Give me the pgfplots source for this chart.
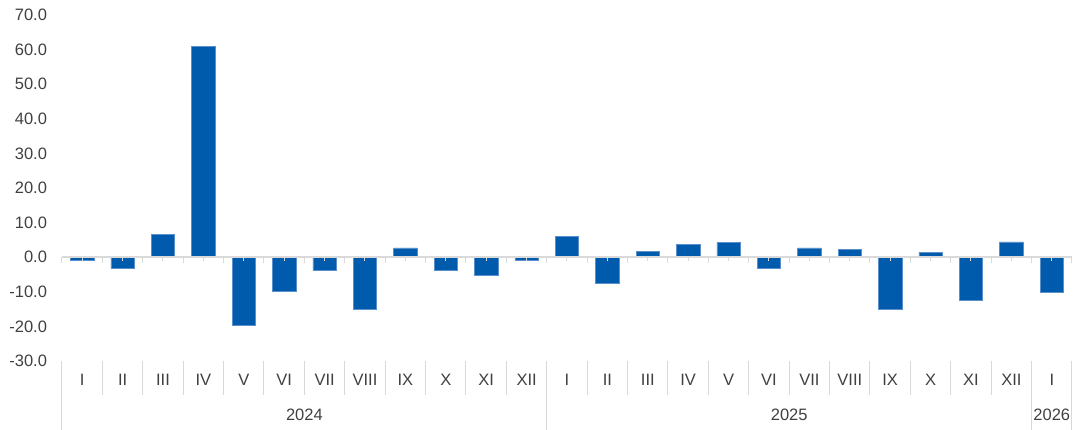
\documentclass[border=0pt]{standalone}
\usepackage{fontspec}
\setmainfont{Liberation Sans}
\usepackage{pgfplots}
\pgfplotsset{compat=1.18}
\definecolor{barblue}{HTML}{005BAC}
\definecolor{baredge}{HTML}{5A8FCB}
\definecolor{gridgray}{HTML}{D9D9D9}
\definecolor{txt}{HTML}{404040}
\newcommand{\lblfont}{\fontsize{16.5}{19.8}\selectfont}
\begin{document}
\begin{tikzpicture}[x=1pt,y=1pt]
\path[use as bounding box] (0,0) rectangle (1081,430);
\begin{axis}[
  at={(62pt,69pt)}, anchor=south west, scale only axis,
  width=1010pt, height=346pt,
  xmin=-0.5, xmax=24.5, ymin=-30, ymax=70,
  ytick={-30,-20,...,70},
  xtick={0,...,24},
  xticklabels={I,II,III,IV,V,VI,VII,VIII,IX,X,XI,XII,I,II,III,IV,V,VI,VII,VIII,IX,X,XI,XII,I},
  axis line style={draw=none},
  major tick length=0pt,
  tick style={draw=none},
  ybar, bar width=23.5pt,
  clip=false,
  font=\lblfont,
  every tick label/.append style={font=\lblfont, text=txt},
  /pgf/number format/assume math mode=true,
  yticklabel style={/pgf/number format/fixed, /pgf/number format/fixed zerofill, /pgf/number format/precision=1, xshift=-11.5pt},
  xticklabel style={anchor=center, yshift=-19pt},
]
\addplot[fill=barblue, draw=baredge, line width=0.5pt] coordinates {
 (0,-0.9) (1,-3.2) (2,6.6) (3,60.9) (4,-19.7) (5,-9.7) (6,-3.8) (7,-14.9)
 (8,2.7) (9,-3.8) (10,-5.2) (11,-0.8)
 (12,6.0) (13,-7.4) (14,1.7) (15,3.7) (16,4.2) (17,-3.3) (18,2.7) (19,2.2)
 (20,-15.0) (21,1.5) (22,-12.4) (23,4.4)
 (24,-10.1)
};
% zero line with ticks
\draw[gridgray, line width=1.4pt] (axis cs:-0.5,0) -- (axis cs:24.5,0);
\pgfplotsinvokeforeach{0,...,25}{
  \draw[gridgray, line width=1pt] (axis cs:#1-0.5,0) -- ++(0pt,-6pt);
}
\pgfplotsinvokeforeach{0,...,24}{
  \draw[gridgray, line width=1pt] (axis cs:#1,0) -- ++(0pt,-4pt);
}
% category separators
\pgfplotsinvokeforeach{0,...,25}{
  \draw[gridgray, line width=1pt] (axis cs:#1-0.5,-30) -- ++(0pt,-34pt);
}
\pgfplotsinvokeforeach{-0.5,11.5,23.5,24.5}{
  \draw[gridgray, line width=1pt] (axis cs:#1,-30) -- ++(0pt,-69pt);
}
\node[text=txt, font=\lblfont, yshift=-54pt] at (axis cs:5.5,-30) {2024};
\node[text=txt, font=\lblfont, yshift=-54pt] at (axis cs:17.5,-30) {2025};
\node[text=txt, font=\lblfont, yshift=-54pt] at (axis cs:24,-30) {2026};
\end{axis}
\end{tikzpicture}
\end{document}
